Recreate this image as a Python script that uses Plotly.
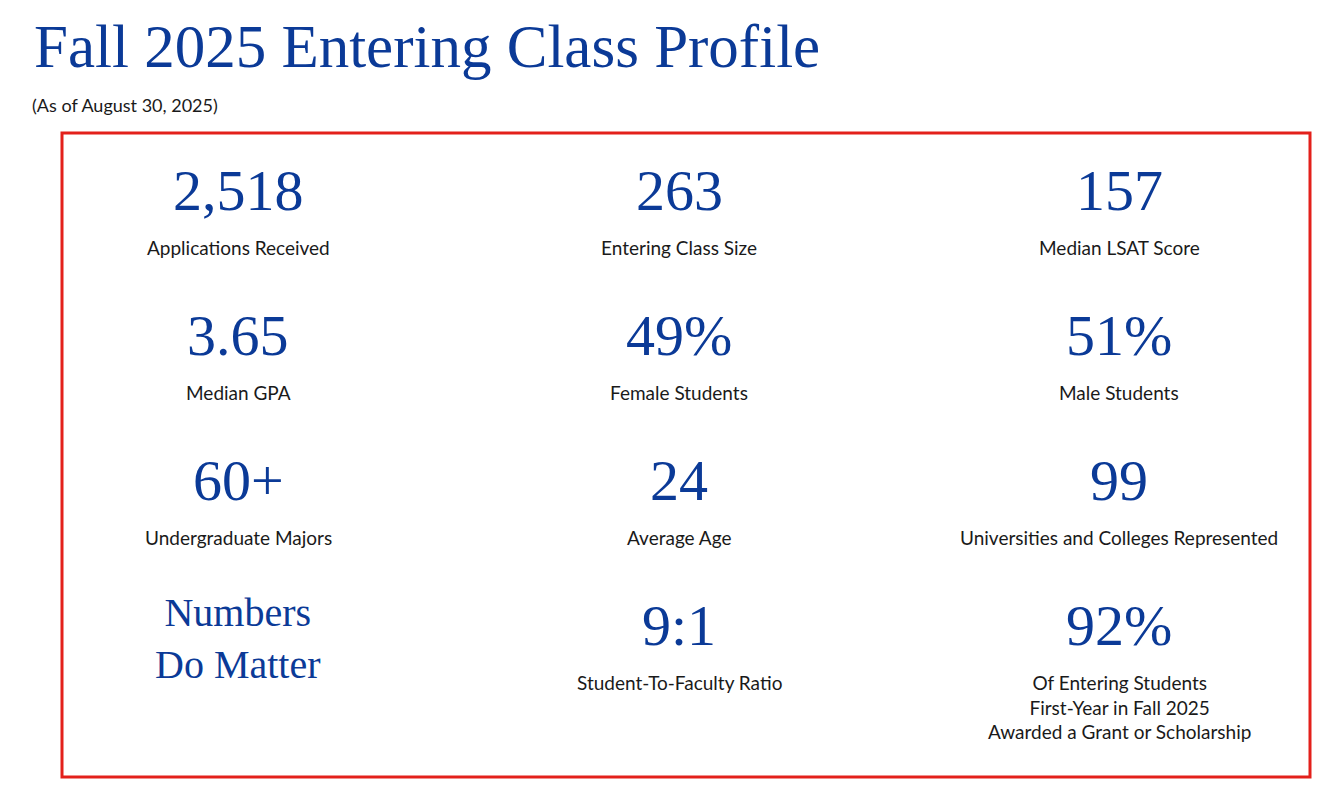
import plotly.graph_objects as go

# stats shown in the grid, row by row
values = ["2,518", "263", "157",
          "3.65", "49%", "51%",
          "60+", "24", "99",
          "Numbers<br>Do Matter", "9:1", "92%"]
labels = ["Applications Received", "Entering Class Size", "Median LSAT Score",
          "Median GPA", "Female Students", "Male Students",
          "Undergraduate Majors", "Average Age", "Universities and Colleges Represented",
          "", "Student-To-Faculty Ratio",
          "Of Entering Students<br>First-Year in Fall 2025<br>Awarded a Grant or Scholarship"]

title = "Fall 2025 Entering Class Profile"
subtitle = "(As of August 30, 2025)"

BLUE = "#0b3a97"
DARK = "#1a1a1a"
RED = "#e3201b"
SERIF = "Liberation Serif, Times New Roman, serif"
SANS = "Lato, Open Sans, sans-serif"

OFF = 8  # page margin offset
col_x = [238 - OFF, 679 - OFF, 1119 - OFF]
row_y = [190 - OFF, 335 - OFF, 480 - OFF, 625 - OFF]

fig = go.Figure()
fig.add_trace(go.Scatter(x=[0], y=[0], mode="markers", marker=dict(opacity=0), hoverinfo="skip"))

ann = []
ann.append(dict(x=32 - OFF, y=46 - OFF, text=title, xanchor="left", yanchor="middle", showarrow=False,
                font=dict(family=SERIF, size=61, color=BLUE)))
ann.append(dict(x=30 - OFF, y=105 - OFF, text=subtitle, xanchor="left", yanchor="middle", showarrow=False,
                font=dict(family=SANS, size=18, color=DARK)))

for i, (v, l) in enumerate(zip(values, labels)):
    cx = col_x[i % 3]
    cy = row_y[i // 3]
    if "<br>" in v:
        ann.append(dict(x=cx, y=cy + 13, text=v, xanchor="center", yanchor="middle", showarrow=False,
                        font=dict(family=SERIF, size=40, color=BLUE)))
    else:
        ann.append(dict(x=cx, y=cy, text=v, xanchor="center", yanchor="middle", showarrow=False,
                        font=dict(family=SERIF, size=58, color=BLUE)))
    if l:
        ann.append(dict(x=cx, y=cy + 44, text=l.replace("<br>", "<br><span style='font-size:4px'> </span><br>") if False else l,
                        xanchor="center", yanchor="top", showarrow=False,
                        font=dict(family=SANS, size=19, color=DARK)))

fig.update_layout(
    width=1328, height=795,
    margin=dict(l=0, r=0, t=0, b=0),
    paper_bgcolor="white", plot_bgcolor="white",
    showlegend=False,
    xaxis=dict(range=[0, 1328], visible=False, fixedrange=True),
    yaxis=dict(range=[795, 0], visible=False, fixedrange=True),
    annotations=ann,
    shapes=[dict(type="rect", x0=62 - OFF, x1=1310 - OFF, y0=133 - OFF, y1=777 - OFF,
                 line=dict(color=RED, width=3))],
)

fig.write_html("out.html", config={"displayModeBar": False})
